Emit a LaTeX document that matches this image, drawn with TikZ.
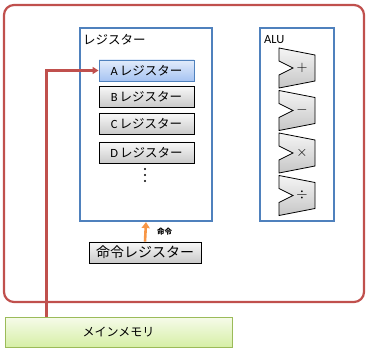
\documentclass[tikz,border=0pt]{standalone}
\usepackage{fontspec}
\setmainfont{Carlito}
\newfontfamily\jp{Noto Sans CJK JP}
\usetikzlibrary{arrows.meta,shadows}
\definecolor{cpured}{HTML}{C0504D}
\definecolor{boxblue}{HTML}{4F81BD}
\definecolor{memgreen}{HTML}{9BBB59}
\definecolor{arrorange}{HTML}{F79646}
\definecolor{atop}{HTML}{E2ECFB}
\definecolor{abot}{HTML}{A6C3F2}
\definecolor{gtop}{HTML}{F6FBEA}
\definecolor{gbot}{HTML}{D6EFA6}
\tikzset{
  area/.style={draw=boxblue, line width=2.2pt, inner sep=0pt},
  regbox/.style={draw=black, line width=0.9pt, top color=gray!5, bottom color=gray!42,
    minimum width=95pt, minimum height=21pt, inner sep=0pt, font=\fontsize{12.5}{13}\selectfont,
    drop shadow={shadow xshift=1pt, shadow yshift=-1pt, opacity=0.35}},
  regA/.style={regbox, draw=boxblue, top color=atop, bottom color=abot},
  alu/.style={draw=black, line width=0.8pt, top color=gray!8, bottom color=gray!45},
  redarrow/.style={draw=cpured, line width=2.2pt, -{Triangle[length=6pt,width=7pt]}},
  orarrow/.style={draw=arrorange, line width=2.6pt, -{Triangle[length=6pt,width=8pt]}},
}
\begin{document}
\begin{tikzpicture}[x=1pt,y=-1pt]
\useasboundingbox (0,0) rectangle (370,350);
% outer CPU
\node[draw=cpured, line width=2.2pt, rounded corners=10pt, minimum width=360pt, minimum height=297pt, inner sep=0pt] (cpu) at (184,153.5) {};
% register area
\node[area, minimum width=132pt, minimum height=193pt] (regs) at (146,124.5) {};
\node[anchor=west, inner sep=0pt, font=\jp\fontsize{12.5}{13}\selectfont] (regslabel) at (83,40) {レジスター};
% ALU area
\node[area, minimum width=74pt, minimum height=193pt] (alubox) at (297,124.5) {};
\node[anchor=west, inner sep=0pt, font=\fontsize{12.5}{13}\selectfont] (alulabel) at (264,40) {ALU};
% registers
\node[regA] (ra) at (146.5,70.5) {A\,{\jp レジスター}};
\node[regbox] (rb) at (146.5,96.5) {B\,{\jp レジスター}};
\node[regbox] (rc) at (146.5,123.5) {C\,{\jp レジスター}};
\node[regbox] (rd) at (146.5,152.5) {D\,{\jp レジスター}};
\foreach \yy in {169,175,181} \fill (145,\yy) circle (1.2pt);
% instruction register
\node[regbox, minimum width=112pt, font=\jp\fontsize{14}{15}\selectfont] (ir) at (145,252.5) {命令レジスター};
\draw[orarrow] (ir.north) -- (regs.south);
\node[anchor=west, inner sep=0pt, font=\jp\bfseries\fontsize{7.5}{8}\selectfont] (irlabel) at (157,232) {命令};
% main memory
\node[draw=memgreen, line width=1pt, top color=gtop, bottom color=gbot,
  minimum width=227pt, minimum height=30pt, inner sep=0pt, font=\jp\fontsize{12}{13}\selectfont] (mem) at (118.5,332) {メインメモリ};
\draw[redarrow] (mem.north west) ++(42,0) |- (ra.west);
% ALU shapes
\foreach \top/\sym/\nm in {48/$+$/add, 90.5/$-$/sub, 133/$\times$/mul, 175.5/$\div$/dvd}{
  \begin{scope}[shift={(279,\top)}]
    \draw[alu] (0,0) -- (36,7) -- (36,33) -- (0,40) -- (0,27) -- (14,20) -- (0,13) -- cycle;
    \node[inner sep=0pt, text=black, font=\fontsize{15}{15}\selectfont] (op\nm) at (23,19.5) {\sym};
  \end{scope}
}
\end{tikzpicture}
\end{document}
